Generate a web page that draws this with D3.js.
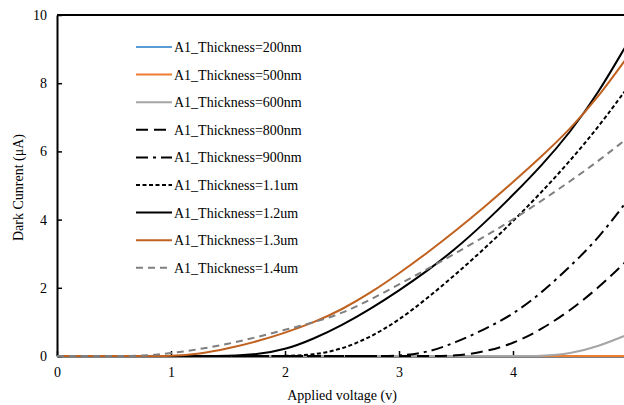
<!DOCTYPE html>
<html>
<head>
<meta charset="utf-8">
<script src="https://cdn.jsdelivr.net/npm/d3@7"></script>
<style>
  html, body { margin: 0; padding: 0; background: #fff; }
  svg { display: block; }
  svg text { font-family: "Liberation Serif", "Times New Roman", serif; }
</style>
</head>
<body>
<svg id="chart" width="624" height="405"></svg>
<script>
// Applied voltage (V) sample points
const voltages = [0, 0.25, 0.5, 0.75, 1.0, 1.25, 1.5, 1.75, 2.0, 2.25, 2.5, 2.75, 3.0, 3.25, 3.5, 3.75, 4.0, 4.25, 4.5, 4.75, 5.0];

// Dark current (µA) for each Al thickness
const thick200 = [0,0,0,0,0,0,0,0,0,0,0,0,0,0,0,0,0,0,0,0,0];
const thick500 = [0,0,0,0,0,0,0,0,0,0,0,0,0,0,0,0,0,0,0,0,0];
const thick600 = [0,0,0,0,0,0,0,0,0,0,0,0,0,0,0,0,0,0,0.06,0.28,0.62];
const thick800 = [0,0,0,0,0,0,0,0,0,0,0,0,0,0,0,0.12,0.36,0.78,1.33,2.0,2.8];
const thick900 = [0,0,0,0,0,0,0,0,0,0,0,0,0,0.1,0.4,0.78,1.22,1.85,2.62,3.45,4.55];
const thick1100 = [0,0,0,0,0,0,0,0,0,0.03,0.2,0.55,1.05,1.7,2.4,3.15,3.95,4.8,5.72,6.72,7.85];
const thick1200 = [0,0,0,0,0,0,0,0.04,0.18,0.5,0.9,1.38,1.92,2.5,3.15,3.9,4.72,5.58,6.55,7.72,9.15];
const thick1300 = [0,0,0,0,0,0.06,0.22,0.42,0.68,0.98,1.36,1.85,2.42,3.03,3.68,4.37,5.1,5.85,6.65,7.6,8.75];
const thick1400 = [0,0,0,0,0.08,0.2,0.35,0.55,0.77,0.98,1.25,1.65,2.1,2.55,3.02,3.5,4.0,4.55,5.12,5.72,6.38];

const seriesNames = [
  "A1_Thickness=200nm", "A1_Thickness=500nm", "A1_Thickness=600nm",
  "A1_Thickness=800nm", "A1_Thickness=900nm", "A1_Thickness=1.1um",
  "A1_Thickness=1.2um", "A1_Thickness=1.3um", "A1_Thickness=1.4um"
];
const seriesValues = [thick200, thick500, thick600, thick800, thick900, thick1100, thick1200, thick1300, thick1400];
const seriesColors = ["#5b9bd5", "#ed7d31", "#a5a5a5", "#000000", "#000000", "#000000", "#000000", "#c0611f", "#7f7f7f"];
const seriesDashes = [null, null, null, "12,6", "12,5,3,5", "4,2.5", null, null, "7,5"];

const xTicks = [0, 1, 2, 3, 4];
const yTicks = [0, 2, 4, 6, 8, 10];

const serif = "'Liberation Serif', 'Times New Roman', serif";
const svg = d3.select("#chart");
const margin = { left: 57, top: 15, bottom: 356 };

const x = d3.scaleLinear().domain([0, 5]).range([margin.left, 627]);
const y = d3.scaleLinear().domain([0, 10]).range([margin.bottom, margin.top]);

// Axes with inward ticks
const xAxis = d3.axisBottom(x).tickValues(xTicks).tickFormat(d3.format("d"))
  .tickSizeInner(-5).tickSizeOuter(0).tickPadding(11);
const yAxis = d3.axisLeft(y).tickValues(yTicks).tickFormat(d3.format("d"))
  .tickSizeInner(-5).tickSizeOuter(0).tickPadding(10);

const gx = svg.append("g").attr("transform", `translate(0,${margin.bottom})`).call(xAxis);
const gy = svg.append("g").attr("transform", `translate(${margin.left},0)`).call(yAxis);

[gx, gy].forEach(g => {
  g.attr("font-family", null);
  g.select(".domain").attr("stroke", "#000").attr("stroke-width", 2);
  g.selectAll(".tick line").attr("stroke", "#000").attr("stroke-width", 1.5);
  g.selectAll(".tick text").style("font-family", serif).attr("font-size", 14).attr("fill", "#000");
});

// Top frame line
svg.append("line")
  .attr("x1", x(0)).attr("x2", 624)
  .attr("y1", y(10)).attr("y2", y(10))
  .attr("stroke", "#000").attr("stroke-width", 2);

// Smoothed curves
const line = d3.line()
  .x((d, i) => x(voltages[i]))
  .y(d => y(d))
  .curve(d3.curveBasis);

svg.append("g").selectAll("path")
  .data(seriesValues)
  .join("path")
  .attr("d", d => line(d))
  .attr("fill", "none")
  .attr("stroke", (d, i) => seriesColors[i])
  .attr("stroke-width", 2)
  .attr("stroke-dasharray", (d, i) => seriesDashes[i]);

// Legend
const legend = svg.append("g");
const legendTop = 47, legendStep = 27.6;
seriesNames.forEach((name, i) => {
  const ly = legendTop + i * legendStep;
  legend.append("line")
    .attr("x1", 136).attr("x2", 172)
    .attr("y1", ly).attr("y2", ly)
    .attr("stroke", seriesColors[i])
    .attr("stroke-width", 2)
    .attr("stroke-dasharray", seriesDashes[i]);
  legend.append("text")
    .attr("x", 174).attr("y", ly)
    .attr("dy", "0.35em")
    .attr("font-size", 14)
    .attr("fill", "#000")
    .style("font-family", serif)
    .text(name);
});

// Axis titles
svg.append("text")
  .attr("x", 342).attr("y", 400)
  .attr("text-anchor", "middle")
  .attr("font-size", 14)
  .style("font-family", serif)
  .text("Applied voltage (v)");

svg.append("text")
  .attr("transform", `translate(23,${(margin.top + margin.bottom) / 2 + 2}) rotate(-90)`)
  .attr("text-anchor", "middle")
  .attr("font-size", 14)
  .style("font-family", serif)
  .text("Dark Cunrent (μA)");
</script>
</body>
</html>
